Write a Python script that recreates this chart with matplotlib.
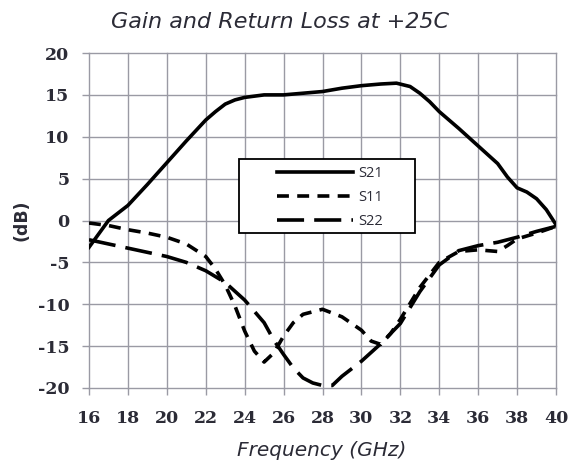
import matplotlib.pyplot as plt
from matplotlib.patches import Rectangle

plt.rcParams['axes.unicode_minus'] = False

# Gain S21
f_s21 = [16, 16.5, 17, 18, 19, 20, 21, 22, 22.5, 23, 23.5, 24, 25, 26, 27, 28, 29, 30,
         31, 31.8, 32.5, 33, 33.5, 34, 35, 36, 37, 37.5, 38, 38.5, 39, 39.5, 40]
s21 = [-3.2, -1.6, 0.0, 1.8, 4.3, 6.9, 9.5, 12.0, 13.0, 13.9, 14.4, 14.7, 15.0, 15.0, 15.2,
       15.4, 15.8, 16.1, 16.3, 16.4, 16.0, 15.2, 14.2, 13.0, 11.0, 8.9, 6.8, 5.2, 3.9, 3.4,
       2.6, 1.3, -0.5]

# Input return loss S11
f_s11 = [16, 17, 18, 19, 20, 21, 22, 22.5, 23, 23.5, 24, 24.5, 25, 25.5, 26, 26.5, 27, 28,
         29, 30, 30.5, 31, 31.5, 32, 33, 34, 35, 36, 37, 37.5, 38, 39, 40]
s11 = [-0.3, -0.6, -1.1, -1.5, -2.0, -2.8, -4.3, -5.8, -7.7, -10.2, -13.2, -15.6, -16.9,
       -15.8, -13.8, -12.2, -11.2, -10.6, -11.5, -13.1, -14.4, -14.8, -13.5, -11.8, -8.0,
       -5.0, -3.7, -3.5, -3.7, -3.0, -2.2, -1.5, -0.7]

# Output return loss S22
f_s22 = [16, 17, 18, 19, 20, 21, 22, 23, 24, 25, 25.5, 26, 26.5, 27, 27.5, 28, 28.5, 29,
         30, 31, 32, 33, 34, 35, 36, 37, 38, 39, 40]
s22 = [-2.3, -2.8, -3.3, -3.8, -4.3, -5.0, -6.0, -7.4, -9.5, -12.2, -14.3, -16.0, -17.6,
       -18.8, -19.4, -19.7, -19.7, -18.6, -16.8, -14.7, -12.3, -8.5, -5.3, -3.6, -3.0,
       -2.6, -2.0, -1.3, -0.7]

x_ticks = list(range(16, 41, 2))
y_ticks = list(range(-20, 21, 5))

txt = '#2b2b36'
tick_font = {'family': 'DejaVu Serif', 'weight': 'bold', 'size': 12.5}

fig = plt.figure(figsize=(5.69, 4.63), dpi=100)
ax = fig.add_axes([0.1564, 0.162, 0.8208, 0.7235])

lw = 2.6
ax.plot(f_s21, s21, color='black', lw=lw, label='S21', zorder=3)
ax.plot(f_s11, s11, color='black', lw=lw, linestyle=(0, (3.3, 2.3)), label='S11', zorder=3)
ax.plot(f_s22, s22, color='black', lw=lw, linestyle=(0, (7.5, 2.8)), label='S22', zorder=3)

ax.set_xlim(16, 40)
ax.set_ylim(-20, 20)
ax.set_xticks(x_ticks)
ax.set_yticks(y_ticks)
ax.grid(True, color='#9a9aa4', lw=1.0, zorder=0)
for g in ax.get_xgridlines() + ax.get_ygridlines():
    g.set_clip_on(False)
for s in ax.spines.values():
    s.set_visible(False)
ax.tick_params(length=5, width=1.0, color='#9a9aa4', labelcolor=txt)
ax.tick_params(axis='y', pad=9)
ax.tick_params(axis='x', pad=11)
for lab in ax.get_xticklabels() + ax.get_yticklabels():
    lab.set_fontproperties(tick_font)

# legend box drawn separately so the padding can be wide
ax.add_patch(Rectangle((0.321, 0.463), 0.377, 0.221, transform=ax.transAxes,
                       facecolor='white', edgecolor='black', lw=1.3, zorder=4))
leg = ax.legend(loc='upper left', bbox_to_anchor=(0.388, 0.684), frameon=False,
                borderpad=0, handlelength=5.2, handletextpad=0.35, labelspacing=0.62,
                prop={'family': 'Open Sans', 'size': 10.5})
leg.set_zorder(5)
for t in leg.get_texts():
    t.set_color(txt)

fig.text(0.492, 0.952, 'Gain and Return Loss at +25C', ha='center', va='center',
         fontsize=16, style='italic', color=txt)
fig.text(0.566, 0.028, 'Frequency (GHz)', ha='center', va='center',
         fontsize=14.5, style='italic', color=txt)
fig.text(0.037, 0.525, '(dB)', ha='center', va='center', rotation=90,
         fontsize=12.5, weight='bold', color=txt)

fig.savefig('out.png', dpi=100)
